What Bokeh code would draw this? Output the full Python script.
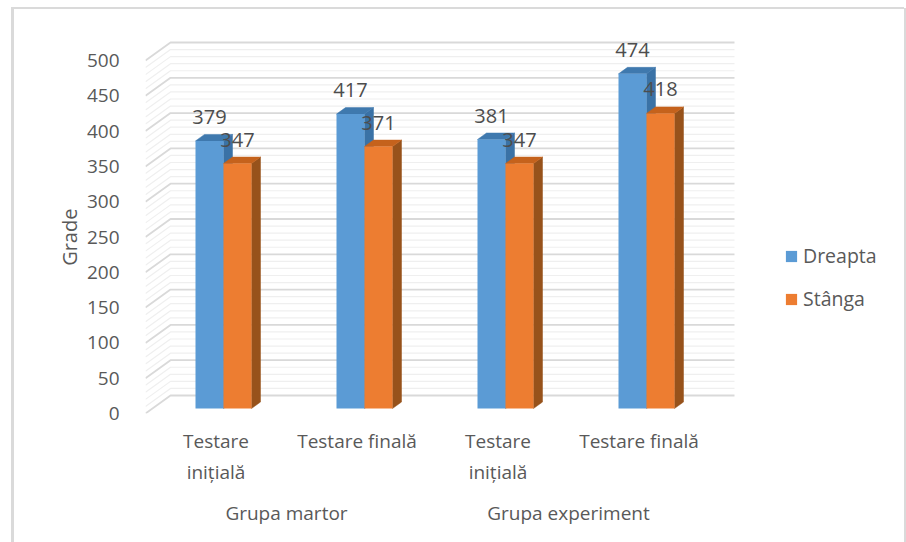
from bokeh.plotting import figure
from bokeh.models import (Range1d, LinearAxis, FixedTicker, Legend, LegendItem, ColumnDataSource)
from bokeh.embed import file_html
from bokeh.resources import INLINE
from bokeh.core.properties import value

# ---- data ----
categories = ["Testare\ninițială", "Testare finală", "Testare\ninițială", "Testare finală"]
groups = ["Grupa martor", "Grupa experiment"]
group_centres = [1, 3]
dreapta = [379, 417, 381, 474]
stanga = [347, 371, 347, 418]
y_ticks = [0, 50, 100, 150, 200, 250, 300, 350, 400, 450, 500]
minor_steps = [10, 20, 30, 40]

C_BLUE, C_BLUE_TOP, C_BLUE_SIDE = "#5B9BD5", "#3F79AE", "#3A72A6"
C_OR, C_OR_TOP, C_OR_SIDE = "#ED7D31", "#C5621C", "#97521B"
TXT = "#595959"
FONT = "Open Sans"

# ---- layout: one category = 141 px, 500 grade = 353 px ----
W, H = 906, 542
L, R, T, B = 145, 6, 24, 129
px_x = 141.0
px_y = 353 / 500
x_end = (W - L - R) / px_x
y_end = (H - T - B) / px_y
ux = lambda v: v / px_x
uy = lambda v: v / px_y

g = "linear-gradient(#dadada,#dadada)"
p = figure(width=W, height=H, output_backend="svg", toolbar_location=None,
           x_range=Range1d(0, x_end), y_range=Range1d(0, y_end),
           min_border_left=L, min_border_right=R, min_border_top=T, min_border_bottom=B,
           x_axis_type=None, y_axis_type=None,
           styles={"background-image": f"{g},{g},{g}",
                   "background-size": "3px 534px, 893px 2px, 2px 534px",
                   "background-position": "11px 8px, 11px 7px, 904px 8px",
                   "background-repeat": "no-repeat"})
p.grid.visible = False
p.outline_line_color = None
p.background_fill_color = "white"
p.border_fill_alpha = 0

# wall and side-wall gridlines
dx_wall, dy_wall = ux(25), uy(18)
def wall(vals, color, width):
    xs = [[0, dx_wall, 4 + dx_wall] for _ in vals]
    ys = [[v, v + dy_wall, v + dy_wall] for v in vals]
    p.multi_line(xs, ys, line_color=color, line_width=width)
minor = [t + m for t in y_ticks[:-1] for m in minor_steps]
wall(minor, "#efefef", 1.2)
wall(y_ticks, "#d9d9d9", 1.8)

# 3-D bars
shift_x, base = ux(7.5), uy(5)
bar_w = ux(28)
dbx, dby = ux(9), uy(6.5)
def bars(vals, offs, front, top, side):
    for i, v in enumerate(vals):
        x0 = i + 0.5 + shift_x + offs
        x1 = x0 + bar_w
        y0, y1 = base, base + v
        p.patch([x1, x1 + dbx, x1 + dbx, x1], [y0, y0 + dby, y1 + dby, y1],
                fill_color=side, line_color=side, line_width=0.5)
        p.patch([x0, x1, x1 + dbx, x0 + dbx], [y1, y1, y1 + dby, y1 + dby],
                fill_color=top, line_color=top, line_width=0.5)
    xs = [i + 0.5 + shift_x + offs + bar_w / 2 for i in range(len(vals))]
    return p.vbar(x=xs, top=[base + v for v in vals], bottom=base, width=bar_w,
                  fill_color=front, line_color=None)
r_blue = bars(dreapta, -bar_w, C_BLUE, C_BLUE_TOP, C_BLUE_SIDE)
r_or = bars(stanga, 0, C_OR, C_OR_TOP, C_OR_SIDE)

# value labels
for vals, off in ((dreapta, -bar_w / 2), (stanga, bar_w / 2)):
    src = ColumnDataSource(dict(
        x=[i + 0.5 + shift_x + off for i in range(len(vals))],
        y=[base + v + uy(24) for v in vals],
        t=[str(v) for v in vals]))
    p.text("x", "y", text="t", source=src, text_font=value(FONT), text_font_size="20px",
           text_color="#4d4d4d", text_align="center", text_baseline="middle")

# y axis (trailing no-break spaces move the rotated title down to its place)
ya = LinearAxis(ticker=FixedTicker(ticks=y_ticks), axis_label="Grade" + "\u00a0" * 7)
ya.axis_line_color = None
ya.major_tick_line_color = None
ya.minor_tick_line_color = None
ya.major_label_text_font = FONT
ya.major_label_text_font_size = "19px"
ya.major_label_text_color = TXT
ya.major_label_standoff = 20
ya.axis_label_text_font = FONT
ya.axis_label_text_font_size = "20px"
ya.axis_label_text_font_style = "normal"
ya.axis_label_text_color = TXT
ya.axis_label_standoff = 1
p.add_layout(ya, "left")

# category axis
xa = LinearAxis(ticker=FixedTicker(ticks=[i + 0.5 for i in range(4)]),
                major_label_overrides={i + 0.5: c for i, c in enumerate(categories)})
ga = LinearAxis(ticker=FixedTicker(ticks=group_centres),
                major_label_overrides=dict(zip(group_centres, groups)))
for a, st in ((xa, 8), (ga, 6)):
    a.axis_line_color = None
    a.major_tick_line_color = None
    a.minor_tick_line_color = None
    a.major_label_text_font = FONT
    a.major_label_text_font_size = "19px"
    a.major_label_text_color = TXT
    a.major_label_standoff = st
    a.major_label_orientation = "horizontal"
p.add_layout(xa, "below")
p.add_layout(ga, "below")

# legend
leg = Legend(items=[LegendItem(label="Dreapta", renderers=[r_blue]),
                    LegendItem(label="Stânga", renderers=[r_or])],
             location=(639, 101), border_line_color=None, background_fill_alpha=0,
             spacing=16, glyph_width=14, glyph_height=14, padding=0, margin=0,
             label_standoff=5, label_text_font=FONT, label_text_font_size="19.5px",
             label_text_color=TXT)
p.add_layout(leg)

open("out.html", "w").write(file_html(p, INLINE))
